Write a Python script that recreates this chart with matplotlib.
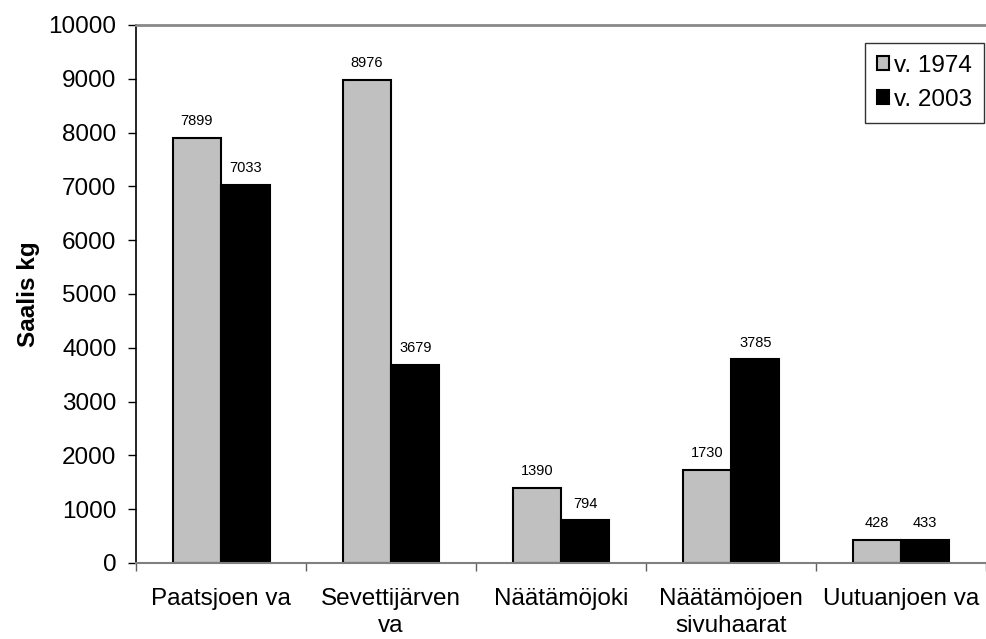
import matplotlib
matplotlib.use("Agg")
import matplotlib.pyplot as plt
import numpy as np

categories = ["Paatsjoen va", "Sevettijärven\nva", "Näätämöjoki", "Näätämöjoen\nsivuhaarat", "Uutuanjoen va"]
series_names = ["v. 1974", "v. 2003"]
values_1974 = [7899, 8976, 1390, 1730, 428]
values_2003 = [7033, 3679, 794, 3785, 433]

plt.rcParams['font.family'] = ['Liberation Sans', 'DejaVu Sans']

fig = plt.figure(figsize=(9.86, 6.39), dpi=100)
ax = fig.add_axes([0.138, 0.119, 0.862, 0.842])

x = np.arange(len(categories))
w = 0.285
b1 = ax.bar(x - w/2, values_1974, w, color='#c0c0c0', edgecolor='black', linewidth=1.5, label=series_names[0])
b2 = ax.bar(x + w/2, values_2003, w, color='black', edgecolor='black', linewidth=1.5, label=series_names[1])

for rects, vals in ((b1, values_1974), (b2, values_2003)):
    for r, v in zip(rects, vals):
        ax.annotate(str(v), (r.get_x() + r.get_width()/2, v), xytext=(0, 7),
                    textcoords='offset points', ha='center', va='bottom', fontsize=10.5)

ax.set_xlim(-0.5, len(categories) - 0.5)
ax.set_ylim(0, 10000)
ax.set_yticks(np.arange(0, 10001, 1000))
ax.set_xticks(x)
ax.set_xticklabels(categories, fontsize=17.5, linespacing=1.3)
ax.set_xticks(np.arange(-0.5, len(categories), 1.0), minor=True)
ax.tick_params(axis='x', which='major', length=0, pad=18)
ax.tick_params(axis='x', which='minor', length=6, direction='out', color='#606060', width=1)
ax.tick_params(axis='y', labelsize=17.5, length=6, direction='out', pad=8, width=1)
ax.set_ylabel("Saalis kg", fontsize=17.5, fontweight='bold', labelpad=6)

ax.spines['right'].set_visible(False)
ax.spines['top'].set_color('#888888')
ax.spines['top'].set_linewidth(2)
ax.spines['bottom'].set_color('#808080')
ax.spines['bottom'].set_linewidth(1.5)
ax.spines['left'].set_linewidth(1.2)

leg = ax.legend(loc='upper right', bbox_to_anchor=(0.998, 0.967), fontsize=17.5, frameon=True,
                fancybox=False, edgecolor='black', handlelength=0.5, handleheight=0.5,
                handletextpad=0.2, borderpad=0.5, labelspacing=0.5, borderaxespad=0)
leg.get_frame().set_linewidth(1.0)
for h in leg.legend_handles:
    h.set_linewidth(1.5)

fig.savefig("out.png", dpi=100)
